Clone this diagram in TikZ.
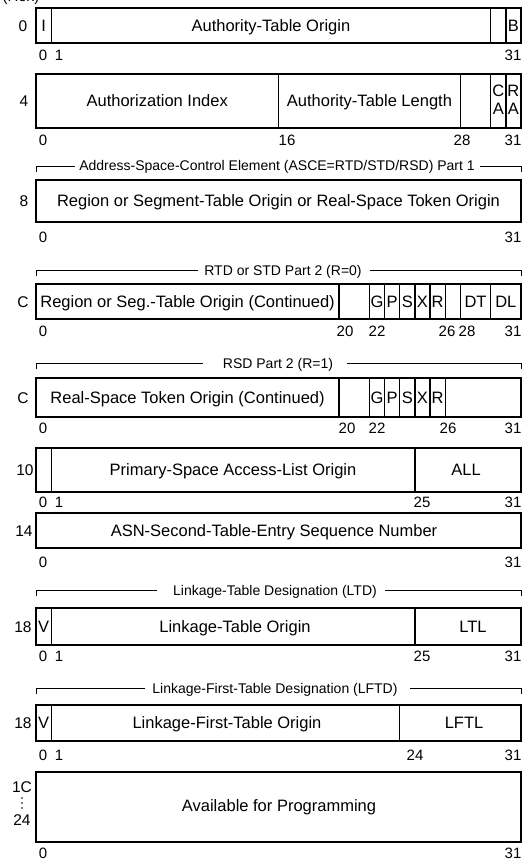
\documentclass[tikz,border=0pt]{standalone}
\usepackage{fontspec}
\setmainfont{Liberation Sans}
\pgfmathdeclarefunction{bx}{1}{\pgfmathparse{36+15.15625*#1}}
\newcommand\bitrow[2]{\foreach \px/\t in {#2} \node[bitlbl] (bit-#1-\t) at (\px,#1) {\t};}
\newcommand\divs[3]{\foreach \b in {#3} \draw[box] ({bx(\b)},#1) -- ({bx(\b)},#2);}
\newcommand\hdrline[5]{% y, text x, gapL, gapR, text
  \node[hdr] (hdr-#1) at (#2,#1) {#5};
  \draw[brk] (36,#1+6) -- (36,#1) -- (#3,#1);
  \draw[brk] (#4,#1) -- (521,#1) -- (521,#1+6);}
\begin{document}
\begin{tikzpicture}[x=1pt,y=-1pt,
  box/.style={line width=1.3pt},
  brk/.style={line width=0.9pt},
  fld/.style={font=\fontsize{16.5}{18}\selectfont, inner sep=0pt, text height=11.8pt, text depth=0pt},
  bitlbl/.style={font=\fontsize{15}{17}\selectfont, inner sep=0pt, text height=10.7pt, text depth=0pt},
  rowlbl/.style={font=\fontsize{15.5}{17}\selectfont, inner sep=0pt, text height=11.1pt, text depth=0pt},
  hdr/.style={font=\fontsize{14}{16}\selectfont, inner sep=0pt, text height=10pt, text depth=0pt}]
\useasboundingbox (0,0) rectangle (525,861);
\node[font=\fontsize{15}{17}\selectfont, inner sep=0pt, anchor=base] (hex) at (21,1.5) {(Hex)};

% Row 0
\draw[box] ({bx(0)},8) rectangle ({bx(32)},43);
\divs{8}{43}{1,30,31}
\node[rowlbl] (r0) at (23,25.5) {0};
\node[fld] (f0i) at ({bx(0.5)},25.5) {I};
\node[fld] (f0ato) at ({bx(15.5)},25.5) {Authority-Table Origin};
\node[fld] (f0b) at ({bx(31.5)},25.5) {B};
\bitrow{55}{43/0,59/1,513/31}

% Row 4
\draw[box] ({bx(0)},74) rectangle ({bx(32)},128);
\divs{74}{128}{16,28,30,31}
\node[rowlbl] (r4) at (24,101) {4};
\node[fld] (f4ai) at ({bx(8)},101) {Authorization Index};
\node[fld] (f4atl) at ({bx(22)},101) {Authority-Table Length};
\node[fld] (f4c) at ({bx(30.5)},91) {C};
\node[fld] (f4a1) at ({bx(30.5)},109) {A};
\node[fld] (f4r) at ({bx(31.5)},91) {R};
\node[fld] (f4a2) at ({bx(31.5)},109) {A};
\bitrow{140}{43/0,287/16,462/28,513/31}

% ASCE part 1
\hdrline{166}{277}{75}{480}{Address-Space-Control Element (ASCE=RTD/STD/RSD) Part 1}
\draw[box] ({bx(0)},180) rectangle ({bx(32)},222);
\node[rowlbl] (r8) at (24,201) {8};
\node[fld] (f8) at ({bx(16)},201) {Region or Segment-Table Origin or Real-Space Token Origin};
\bitrow{237}{43/0,513/31}

% RTD / STD part 2
\hdrline{270}{283}{198}{370}{RTD or STD Part 2 (R=0)}
\draw[box] ({bx(0)},284) rectangle ({bx(32)},319);
\divs{284}{319}{20,22,23,24,25,26,27,28,30}
\node[rowlbl] (rc1) at (23,301.5) {C};
\node[fld] (fc1o) at ({bx(10)},301.5) {Region or Seg.-Table Origin (Continued)};
\node[fld] (fc1g) at ({bx(22.5)},301.5) {G};
\node[fld] (fc1p) at ({bx(23.5)},301.5) {P};
\node[fld] (fc1s) at ({bx(24.5)},301.5) {S};
\node[fld] (fc1x) at ({bx(25.5)},301.5) {X};
\node[fld] (fc1r) at ({bx(26.5)},301.5) {R};
\node[fld] (fc1dt) at ({bx(29)},301.5) {DT};
\node[fld] (fc1dl) at ({bx(31)},301.5) {DL};
\bitrow{331}{43/0,345/20,377/22,447/26,467/28,513/31}

% RSD part 2
\hdrline{363}{278}{203}{347}{RSD Part 2 (R=1)}
\draw[box] ({bx(0)},378) rectangle ({bx(32)},417);
\divs{378}{417}{20,22,23,24,25,26,27}
\node[rowlbl] (rc2) at (23,397.5) {C};
\node[fld] (fc2o) at ({bx(10)},397.5) {Real-Space Token Origin (Continued)};
\node[fld] (fc2g) at ({bx(22.5)},397.5) {G};
\node[fld] (fc2p) at ({bx(23.5)},397.5) {P};
\node[fld] (fc2s) at ({bx(24.5)},397.5) {S};
\node[fld] (fc2x) at ({bx(25.5)},397.5) {X};
\node[fld] (fc2r) at ({bx(26.5)},397.5) {R};
\bitrow{428}{43/0,347/20,377/22,448/26,513/31}

% Row 10
\draw[box] ({bx(0)},448) rectangle ({bx(32)},492);
\divs{448}{492}{1,25}
\node[rowlbl] (r10) at (25,470) {10};
\node[fld] (f10o) at ({bx(13)},470) {Primary-Space Access-List Origin};
\node[fld] (f10all) at (466,470) {ALL};
\bitrow{502}{43/0,59/1,422/25,513/31}

% Row 14
\draw[box] ({bx(0)},513) rectangle ({bx(32)},548);
\node[rowlbl] (r14) at (24,530.5) {14};
\node[fld] (f14) at (274,530.5) {ASN-Second-Table-Entry Sequence Number};
\bitrow{562}{43/0,513/31}

% LTD
\hdrline{590}{275}{157}{385}{Linkage-Table Designation (LTD)}
\draw[box] ({bx(0)},608) rectangle ({bx(32)},645);
\divs{608}{645}{1,25}
\node[rowlbl] (r18a) at (23,626.5) {18};
\node[fld] (f18v) at ({bx(0.5)},626.5) {V};
\node[fld] (f18o) at (235,626.5) {Linkage-Table Origin};
\node[fld] (f18l) at (473,626.5) {LTL};
\bitrow{656}{43/0,59/1,422/25,513/31}

% LFTD
\hdrline{688}{275}{145}{410}{Linkage-First-Table Designation (LFTD)}
\draw[box] ({bx(0)},705) rectangle ({bx(32)},741);
\divs{705}{741}{1,24}
\node[rowlbl] (r18b) at (23,723) {18};
\node[fld] (f18bv) at ({bx(0.5)},723) {V};
\node[fld] (f18bo) at (227,723) {Linkage-First-Table Origin};
\node[fld] (f18bl) at (464,723) {LFTL};
\bitrow{755}{43/0,59/1,415/24,513/31}

% Row 1C..24
\draw[box] ({bx(0)},772) rectangle ({bx(32)},842);
\node[rowlbl] (r1c) at (22,787) {1C};
\foreach \yy in {798,803,808} \fill (22,\yy) circle (0.8pt);
\node[rowlbl] (r24) at (22,820) {24};
\node[fld] (f1c) at (279,806) {Available for Programming};
\bitrow{853.5}{43/0,513/31}
\end{tikzpicture}
\end{document}
